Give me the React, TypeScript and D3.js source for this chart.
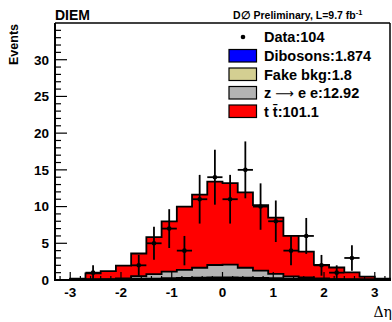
import React from "react";
import * as d3 from "d3";

const binCenters = [-3.15, -2.85, -2.55, -2.25, -1.95, -1.65, -1.35, -1.05, -0.75, -0.45, -0.15, 0.15, 0.45, 0.75, 1.05, 1.35, 1.65, 1.95, 2.25, 2.55, 2.85, 3.15];
const binWidth = 0.3;
const dibosons = [0, 0, 0.02, 0.03, 0.05, 0.08, 0.1, 0.12, 0.15, 0.17, 0.18, 0.18, 0.17, 0.15, 0.12, 0.1, 0.08, 0.05, 0.03, 0.02, 0.01, 0];
const fakeBkg = [0, 0.02, 0.03, 0.04, 0.06, 0.08, 0.1, 0.12, 0.14, 0.15, 0.16, 0.16, 0.15, 0.14, 0.12, 0.1, 0.08, 0.06, 0.04, 0.03, 0.02, 0];
const zee = [0, 0.13, 0.05, 0.03, 0.1, 0.35, 0.6, 0.9, 1.1, 1.35, 1.7, 1.75, 1.35, 1.0, 0.6, 0.3, 0.2, 0.1, 0.03, 0.05, 0.07, 0];
const ttbar = [0, 0.05, 0.8, 1.1, 1.75, 3.1, 5.05, 6.85, 8.6, 9.95, 11.35, 11.1, 10.25, 8.9, 7.65, 5.5, 3.5, 1.85, 1.6, 0.95, 0.35, 0.2];
const data = [0, 0, 1, 0, 0, 2, 5, 7, 4, 11, 14, 11, 15, 10, 8, 4, 6, 2, 1, 3, 0, 0];

const xTicks = [-3, -2, -1, 0, 1, 2, 3];
const yTicks = [0, 5, 10, 15, 20, 25, 30];

const legendItems = [
  { pre: "Dibosons:1.874", arrow: "", post: "", color: "#0000ff" },
  { pre: "Fake bkg:1.8", arrow: "", post: "", color: "#d4cf92" },
  { pre: "z ", arrow: "\u27F6", post: " e e:12.92", color: "#b3b3b3" },
  { pre: "t t\u0304:101.1", arrow: "", post: "", color: "#ff0000" },
];

export default function App() {
  const W = 392, H = 322;
  const x = d3.scaleLinear().domain([-3.3, 3.3]).range([55, 390]);
  const y = d3.scaleLinear().domain([0, 35]).range([280, 23]);

  const layers = [dibosons, fakeBkg, zee, ttbar];
  const cum: number[][] = [];
  let acc = binCenters.map(() => 0);
  for (const l of layers) {
    acc = acc.map((v, i) => v + l[i]);
    cum.push(acc.slice());
  }
  const colors = ["#0000ff", "#d4cf92", "#b3b3b3", "#ff0000"];

  const stepPath = (vals: number[]) => {
    let p = `M${x(binCenters[0] - binWidth / 2)},${y(0)}`;
    binCenters.forEach((c, i) => {
      p += `L${x(c - binWidth / 2)},${y(vals[i])}L${x(c + binWidth / 2)},${y(vals[i])}`;
    });
    p += `L${x(binCenters[binCenters.length - 1] + binWidth / 2)},${y(0)}Z`;
    return p;
  };

  const font = "'Liberation Sans', Arial, Helvetica, sans-serif";
  const xMinor = d3.range(-3.2, 3.3, 0.2).map((v) => Math.round(v * 10) / 10);
  const yMinor = d3.range(0, 35, 1);

  return (
    <svg width={W} height={H} style={{ position: "absolute", left: 0, top: 0, background: "#fff" }} fontFamily={font}>
      <rect x={0} y={0} width={W} height={H} fill="#fff" />
      {[3, 2, 1, 0].map((k) => (
        <path key={k} d={stepPath(cum[k])} fill={colors[k]} stroke="#000" strokeWidth={1.8} strokeLinejoin="miter" />
      ))}
      {binCenters.map((c, i) =>
        data[i] > 0 ? (
          <g key={i} stroke="#000" strokeWidth={1.8}>
            <line x1={x(c)} x2={x(c)} y1={y(data[i] - Math.sqrt(data[i]))} y2={y(data[i] + Math.sqrt(data[i]))} />
            <line x1={x(c - binWidth / 2)} x2={x(c + binWidth / 2)} y1={y(data[i])} y2={y(data[i])} />
            <circle cx={x(c)} cy={y(data[i])} r={2.3} fill="#000" stroke="none" />
          </g>
        ) : null
      )}
      <line x1={55} x2={390} y1={23} y2={23} stroke="#000" strokeWidth={1.5} />
      <line x1={390} x2={390} y1={23} y2={280} stroke="#000" strokeWidth={1.5} />
      <line x1={55} x2={55} y1={23} y2={281} stroke="#000" strokeWidth={2} />
      <line x1={54} x2={391} y1={280} y2={280} stroke="#000" strokeWidth={2} />
      {yMinor.map((v) => (
        <line key={v} x1={55} x2={v % 5 === 0 ? 67 : 61} y1={y(v)} y2={y(v)} stroke="#000" strokeWidth={1.2} />
      ))}
      {yTicks.map((v) => (
        <text key={v} x={49} y={y(v) + 4.8} textAnchor="end" fontSize={13.5} fontWeight="bold">{v}</text>
      ))}
      {xMinor.map((v) => (
        <line key={v} x1={x(v)} x2={x(v)} y1={280} y2={Number.isInteger(v) ? 272 : 276} stroke="#000" strokeWidth={1.2} />
      ))}
      {xTicks.map((v) => (
        <text key={v} x={x(v)} y={297} textAnchor="middle" fontSize={13.5} fontWeight="bold">{v}</text>
      ))}
      <text x={392} y={317} textAnchor="end" fontSize={14} fontFamily="'DejaVu Serif', 'Liberation Serif', serif">Δη</text>
      <text transform="translate(18,24) rotate(-90)" textAnchor="end" fontSize={12.5} fontWeight="bold">Events</text>
      <text x={55} y={20} fontSize={14} fontWeight="bold">DIEM</text>
      <text x={233} y={19} fontSize={10.5} fontWeight="bold">D∅ Preliminary, L=9.7 fb<tspan dy={-4} fontSize={7.5}>-1</tspan></text>
      <circle cx={243} cy={37} r={2.3} fill="#000" />
      <text x={264} y={42} fontSize={14.5} fontWeight="bold">Data:104</text>
      {legendItems.map((it, i) => (
        <g key={it.pre}>
          <rect x={229} y={49.5 + i * 18.5} width={27.5} height={12.5} fill={it.color} stroke="#000" strokeWidth={1.2} />
          <text x={264} y={61 + i * 18.5} fontSize={14.5} fontWeight="bold">
            {it.pre}
            {it.arrow ? <tspan fontFamily="'DejaVu Sans', sans-serif" fontWeight="normal" fontSize={13}>{it.arrow}</tspan> : null}
            {it.post}
          </text>
        </g>
      ))}
    </svg>
  );
}
